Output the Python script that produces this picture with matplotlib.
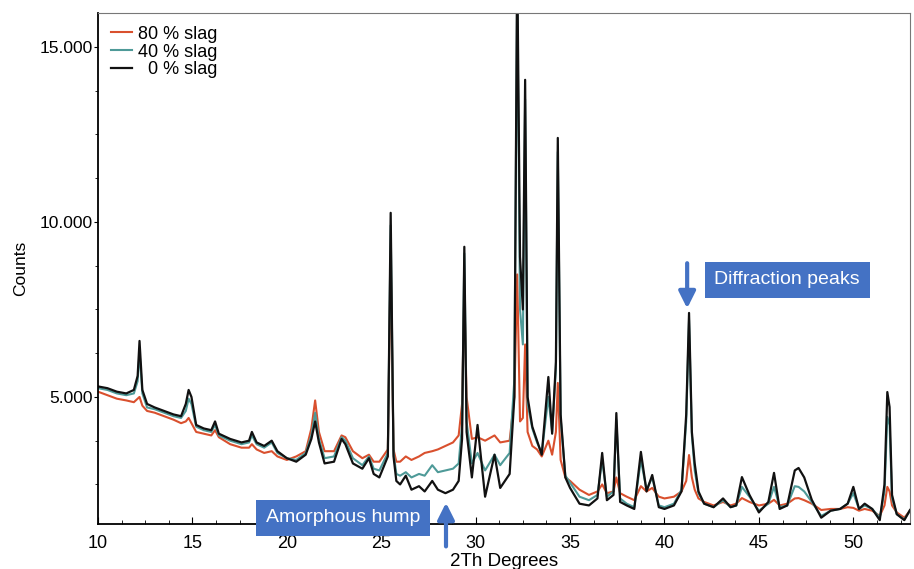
import matplotlib
matplotlib.use("Agg")
import matplotlib.pyplot as plt
from matplotlib.ticker import MultipleLocator, FuncFormatter

plt.rcParams['font.family'] = ['Liberation Sans', 'DejaVu Sans']

# 2theta positions (degrees) and counts
two_theta = [
    10.0, 10.5, 11.0, 11.5, 11.9, 12.1, 12.2, 12.35, 12.6, 13.0,
    13.5, 14.0, 14.4, 14.65, 14.8, 14.95, 15.2, 15.6, 16.0, 16.2,
    16.4, 17.0, 17.6, 18.0, 18.15, 18.4, 18.8, 19.2, 19.5, 20.0,
    20.5, 21.0, 21.3, 21.5, 21.7, 22.0, 22.5, 22.9, 23.1, 23.5,
    24.0, 24.35, 24.6, 24.9, 25.35, 25.5, 25.65, 25.8, 26.0, 26.3,
    26.6, 27.0, 27.3, 27.7, 28.0, 28.4, 28.8, 29.1, 29.28, 29.4,
    29.52, 29.8, 30.1, 30.5, 31.0, 31.3, 31.8, 32.05, 32.2, 32.35,
    32.5, 32.62, 32.75, 33.0, 33.25, 33.5, 33.85, 34.05, 34.25, 34.35,
    34.5, 34.75, 35.0, 35.5, 36.0, 36.45, 36.7, 36.95, 37.3, 37.45,
    37.65, 38.0, 38.4, 38.75, 39.05, 39.35, 39.7, 40.0, 40.5, 40.9,
    41.15, 41.3, 41.45, 41.6, 41.8, 42.1, 42.6, 43.1, 43.5, 43.8,
    44.1, 44.5, 45.0, 45.5, 45.8, 46.1, 46.5, 46.9, 47.1, 47.4,
    47.8, 48.3, 48.8, 49.3, 49.7, 50.0, 50.3, 50.6, 51.0, 51.4,
    51.65, 51.8, 51.92, 52.05, 52.3, 52.7, 53.0,
]

slag_0 = [
    5300, 5250, 5150, 5100, 5200, 5600, 6600, 5200, 4800, 4700,
    4600, 4500, 4450, 4800, 5200, 5000, 4200, 4100, 4050, 4300,
    3950, 3800, 3700, 3750, 4000, 3700, 3600, 3750, 3450, 3250,
    3150, 3350, 3800, 4300, 3700, 3100, 3150, 3800, 3650, 3100,
    2950, 3250, 2800, 2700, 3300, 10260, 3300, 2600, 2500, 2750,
    2350, 2450, 2300, 2600, 2350, 2250, 2350, 2600, 3800, 9290,
    4000, 2700, 4200, 2150, 3350, 2400, 2800, 5000, 17500, 9000,
    7500, 14060, 5000, 4150, 3750, 3350, 5570, 3950, 6000, 12400,
    4500, 2700, 2400, 1950, 1900, 2100, 3400, 2050, 2200, 4540,
    2000, 1900, 1800, 3430, 2300, 2770, 1850, 1800, 1900, 2300,
    4500, 7400, 4000, 3100, 2300, 1950, 1850, 2100, 1850, 1900,
    2710, 2200, 1700, 2000, 2830, 1800, 1900, 2900, 2970, 2700,
    2060, 1550, 1750, 1800, 1950, 2430, 1800, 1950, 1800, 1480,
    2500, 5140, 4710, 2200, 1650, 1480, 1770,
]

slag_40 = [
    5250, 5200, 5100, 5050, 5100, 5450, 6300, 5100, 4700, 4650,
    4550, 4450, 4400, 4600, 4950, 4800, 4150, 4050, 4000, 4200,
    3900, 3750, 3650, 3700, 3900, 3650, 3550, 3700, 3400, 3250,
    3200, 3400, 3900, 4550, 3800, 3250, 3300, 3850, 3750, 3250,
    3050, 3300, 2950, 2900, 3400, 9900, 3400, 2800, 2750, 2850,
    2700, 2800, 2750, 3050, 2850, 2900, 2950, 3100, 4200, 9100,
    4300, 3100, 3400, 2900, 3350, 3050, 3400, 5500, 16800, 7500,
    6500, 13500, 4800, 4100, 3700, 3400, 5000, 4000, 5800, 12000,
    4400, 2750, 2550, 2150, 2050, 2200, 3200, 2150, 2300, 4340,
    2100, 1950, 1850, 3200, 2350, 2700, 1900, 1850, 1950, 2350,
    4300, 7200, 3900, 2900, 2250, 1950, 1850, 2050, 1850, 1900,
    2430, 2150, 1750, 1950, 2430, 1850, 1900, 2450, 2430, 2300,
    2000, 1600, 1750, 1800, 1950, 2250, 1800, 1900, 1800, 1550,
    2300, 4430, 4200, 2100, 1650, 1500, 1750,
]

slag_80 = [
    5150, 5050, 4950, 4900, 4850, 4950, 5000, 4750, 4600, 4550,
    4450, 4350, 4250, 4300, 4400, 4250, 4000, 3950, 3900, 4050,
    3850, 3650, 3550, 3550, 3650, 3500, 3400, 3450, 3300, 3200,
    3300, 3450, 4100, 4900, 4000, 3450, 3450, 3900, 3850, 3450,
    3250, 3350, 3150, 3150, 3500, 9000, 3500, 3150, 3150, 3300,
    3200, 3300, 3400, 3450, 3500, 3600, 3700, 3900, 4800, 8000,
    5000, 3800, 3850, 3750, 3900, 3700, 3750, 5000, 8500, 4300,
    4400, 6500, 4000, 3600, 3500, 3300, 3750, 3350, 4000, 5400,
    3200, 2700, 2600, 2350, 2200, 2300, 2500, 2250, 2300, 2700,
    2250, 2150, 2050, 2450, 2300, 2400, 2150, 2100, 2150, 2300,
    2600, 3340, 2700, 2350, 2100, 2000, 1900, 2000, 1900, 1950,
    2110, 2000, 1900, 1950, 2060, 1900, 1950, 2100, 2110, 2050,
    1950, 1770, 1800, 1800, 1850, 1830, 1750, 1800, 1750, 1600,
    1900, 2430, 2300, 1900, 1700, 1550, 1750,
]

fig = plt.figure(figsize=(9.14, 5.69), dpi=100)
ax = fig.add_axes([0.1072, 0.0791, 0.8884, 0.8981])

ax.plot(two_theta, slag_80, color='#D9502E', lw=1.5, label='80 % slag')
ax.plot(two_theta, slag_40, color='#4E9A98', lw=1.5, label='40 % slag')
ax.plot(two_theta, slag_0, color='#111111', lw=1.6, label='  0 % slag')

ax.set_xlim(10, 53)
ax.set_ylim(1370, 15970)

ax.xaxis.set_major_locator(MultipleLocator(5))
ax.xaxis.set_minor_locator(MultipleLocator(1.25))
ax.yaxis.set_major_locator(MultipleLocator(5000))
ax.yaxis.set_minor_locator(MultipleLocator(1250))
ax.yaxis.set_major_formatter(FuncFormatter(lambda v, p: '{:.3f}'.format(v / 1000)))

ax.tick_params(axis='x', which='both', direction='in', labelsize=13, pad=8)
ax.tick_params(axis='x', which='major', length=5)
ax.tick_params(axis='x', which='minor', length=3)
ax.tick_params(axis='y', which='major', direction='out', length=3, labelsize=12.5, pad=1)
ax.tick_params(axis='y', which='minor', direction='out', length=2)

for side in ['top', 'right']:
    ax.spines[side].set_color('#777777')
ax.spines['left'].set_linewidth(1.3)
ax.spines['bottom'].set_linewidth(1.3)

ax.set_xlabel('2Th Degrees', fontsize=13.5, labelpad=1)
ax.set_ylabel('Counts', fontsize=12.5, labelpad=8)

leg = ax.legend(loc='upper left', frameon=False, fontsize=13, handlelength=1.2,
                handletextpad=0.3, labelspacing=0.05, borderaxespad=0.3)

box_blue = '#4472C4'
ax.text(46.5, 8343, 'Diffraction peaks', color='white', fontsize=14,
        ha='center', va='center',
        bbox=dict(boxstyle='square,pad=0.5', fc=box_blue, ec='none'))
ax.annotate('', xy=(41.2, 7450), xytext=(41.2, 8900),
            arrowprops=dict(arrowstyle='-|>,head_width=0.5,head_length=1.0',
                            color=box_blue, lw=3))

ax.text(22.98, 1543, 'Amorphous hump', color='white', fontsize=14,
        ha='center', va='center', clip_on=False, zorder=5,
        bbox=dict(boxstyle='square,pad=0.5', fc=box_blue, ec='none'))
ax.annotate('', xy=(28.43, 2057), xytext=(28.43, 650),
            annotation_clip=False,
            arrowprops=dict(arrowstyle='-|>,head_width=0.5,head_length=1.0',
                            color=box_blue, lw=3))

fig.savefig('out.png', dpi=100)
